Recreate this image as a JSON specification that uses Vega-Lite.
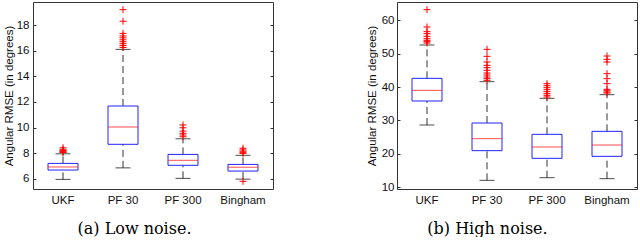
{
  "$schema": "https://vega.github.io/schema/vega-lite/v6.json",
  "padding": {"left": 2, "top": 1, "right": 0, "bottom": 0},
  "background": "white",
  "bounds": "flush",
  "spacing": 124,
  "config": {
    "view": {"stroke": "#333", "strokeWidth": 1},
    "font": "Liberation Sans",
    "axis": {"labelFont": "Liberation Sans", "titleFont": "Liberation Sans"}
  },
  "datasets": {
    "box": [
      {"panel": "a", "cat": "UKF", "lo": 5.95, "q1": 6.68, "med": 6.92, "q3": 7.2, "hi": 7.95},
      {"panel": "a", "cat": "PF 30", "lo": 6.85, "q1": 8.69, "med": 10.04, "q3": 11.68, "hi": 16.1},
      {"panel": "a", "cat": "PF 300", "lo": 6.03, "q1": 7.05, "med": 7.44, "q3": 7.9, "hi": 9.12},
      {"panel": "a", "cat": "Bingham", "lo": 5.97, "q1": 6.6, "med": 6.9, "q3": 7.12, "hi": 7.83},
      {"panel": "b", "cat": "UKF", "lo": 28.6, "q1": 35.8, "med": 39.0, "q3": 42.6, "hi": 52.6},
      {"panel": "b", "cat": "PF 30", "lo": 12.0, "q1": 20.9, "med": 24.5, "q3": 29.2, "hi": 41.6},
      {"panel": "b", "cat": "PF 300", "lo": 12.8, "q1": 18.6, "med": 22.0, "q3": 25.8, "hi": 36.6},
      {"panel": "b", "cat": "Bingham", "lo": 12.5, "q1": 19.2, "med": 22.6, "q3": 26.7, "hi": 37.7}
    ],
    "out": [
      {"panel": "a", "cat": "UKF", "v": 8.05}, {"panel": "a", "cat": "UKF", "v": 8.1}, {"panel": "a", "cat": "UKF", "v": 8.15},
      {"panel": "a", "cat": "UKF", "v": 8.2}, {"panel": "a", "cat": "UKF", "v": 8.3}, {"panel": "a", "cat": "UKF", "v": 8.42},
      {"panel": "a", "cat": "PF 30", "v": 16.25}, {"panel": "a", "cat": "PF 30", "v": 16.4}, {"panel": "a", "cat": "PF 30", "v": 16.55},
      {"panel": "a", "cat": "PF 30", "v": 16.7}, {"panel": "a", "cat": "PF 30", "v": 16.85}, {"panel": "a", "cat": "PF 30", "v": 17.0},
      {"panel": "a", "cat": "PF 30", "v": 17.15}, {"panel": "a", "cat": "PF 30", "v": 17.35}, {"panel": "a", "cat": "PF 30", "v": 18.3},
      {"panel": "a", "cat": "PF 30", "v": 19.2},
      {"panel": "a", "cat": "PF 300", "v": 9.28}, {"panel": "a", "cat": "PF 300", "v": 9.42}, {"panel": "a", "cat": "PF 300", "v": 9.55},
      {"panel": "a", "cat": "PF 300", "v": 9.72}, {"panel": "a", "cat": "PF 300", "v": 9.98}, {"panel": "a", "cat": "PF 300", "v": 10.2},
      {"panel": "a", "cat": "Bingham", "v": 5.8}, {"panel": "a", "cat": "Bingham", "v": 7.98}, {"panel": "a", "cat": "Bingham", "v": 8.06},
      {"panel": "a", "cat": "Bingham", "v": 8.15}, {"panel": "a", "cat": "Bingham", "v": 8.25}, {"panel": "a", "cat": "Bingham", "v": 8.38},
      {"panel": "b", "cat": "UKF", "v": 53.2}, {"panel": "b", "cat": "UKF", "v": 53.6}, {"panel": "b", "cat": "UKF", "v": 54.0},
      {"panel": "b", "cat": "UKF", "v": 54.5}, {"panel": "b", "cat": "UKF", "v": 55.2}, {"panel": "b", "cat": "UKF", "v": 56.0},
      {"panel": "b", "cat": "UKF", "v": 56.6}, {"panel": "b", "cat": "UKF", "v": 58.0}, {"panel": "b", "cat": "UKF", "v": 63.2},
      {"panel": "b", "cat": "PF 30", "v": 42.0}, {"panel": "b", "cat": "PF 30", "v": 42.5}, {"panel": "b", "cat": "PF 30", "v": 43.0},
      {"panel": "b", "cat": "PF 30", "v": 43.6}, {"panel": "b", "cat": "PF 30", "v": 44.2}, {"panel": "b", "cat": "PF 30", "v": 45.0},
      {"panel": "b", "cat": "PF 30", "v": 45.8}, {"panel": "b", "cat": "PF 30", "v": 46.5}, {"panel": "b", "cat": "PF 30", "v": 47.5},
      {"panel": "b", "cat": "PF 30", "v": 49.2}, {"panel": "b", "cat": "PF 30", "v": 51.3},
      {"panel": "b", "cat": "PF 300", "v": 37.0}, {"panel": "b", "cat": "PF 300", "v": 37.5}, {"panel": "b", "cat": "PF 300", "v": 38.0},
      {"panel": "b", "cat": "PF 300", "v": 38.6}, {"panel": "b", "cat": "PF 300", "v": 39.2}, {"panel": "b", "cat": "PF 300", "v": 39.8},
      {"panel": "b", "cat": "PF 300", "v": 40.4}, {"panel": "b", "cat": "PF 300", "v": 41.0},
      {"panel": "b", "cat": "Bingham", "v": 38.2}, {"panel": "b", "cat": "Bingham", "v": 38.5}, {"panel": "b", "cat": "Bingham", "v": 38.9},
      {"panel": "b", "cat": "Bingham", "v": 39.3}, {"panel": "b", "cat": "Bingham", "v": 41.0}, {"panel": "b", "cat": "Bingham", "v": 42.5},
      {"panel": "b", "cat": "Bingham", "v": 44.0}, {"panel": "b", "cat": "Bingham", "v": 47.5}, {"panel": "b", "cat": "Bingham", "v": 48.3},
      {"panel": "b", "cat": "Bingham", "v": 49.3}
    ]
  },
  "hconcat": [
    {
      "width": 240,
      "height": 187,
      "encoding": {
        "x": {
          "field": "cat", "type": "nominal",
          "sort": ["UKF", "PF 30", "PF 300", "Bingham"],
          "scale": {"paddingInner": 0, "paddingOuter": 0},
          "axis": {
            "title": "(a) Low noise.", "titleFont": "DejaVu Serif", "titleFontSize": 16, "titleFontWeight": "normal",
            "titleColor": "#000", "titleX": 101, "titleAlign": "center", "titlePadding": 15,
            "labelAngle": 0, "labelFontSize": 11.5, "labelColor": "#111", "labelPadding": 5,
            "ticks": false, "domain": false
          }
        }
      },
      "resolve": {"axis": {"y": "independent"}},
      "layer": [
        {
          "data": {"name": "box"},
          "transform": [{"filter": "datum.panel === 'a'"}],
          "mark": {"type": "rule", "color": "#333", "strokeDash": [7, 4], "strokeWidth": 1},
          "encoding": {
            "y": {
              "field": "lo", "type": "quantitative",
              "scale": {"domain": [5.2, 19.8], "nice": false, "zero": false},
              "axis": {
                "title": "Angular RMSE (in degrees)", "titleFontSize": 11.5, "titleFontWeight": "normal", "titleColor": "#111",
                "titlePadding": 2, "values": [6, 8, 10, 12, 14, 16, 18], "grid": false, "domain": false,
                "tickSize": -3, "tickColor": "#333", "labelFontSize": 11.5, "labelColor": "#111", "labelPadding": 7
              }
            },
            "y2": {"field": "q1"}
          }
        },
        {
          "data": {"name": "box"},
          "transform": [{"filter": "datum.panel === 'a'"}],
          "mark": {"type": "rule", "color": "#333", "strokeDash": [7, 4], "strokeWidth": 1},
          "encoding": {
            "y": {
              "field": "q3", "type": "quantitative",
              "axis": {"orient": "right", "title": null, "labels": false, "values": [6, 8, 10, 12, 14, 16, 18], "grid": false, "domain": false, "tickSize": -3, "tickColor": "#333"}
            },
            "y2": {"field": "hi"}
          }
        },
        {
          "data": {"name": "box"},
          "transform": [{"filter": "datum.panel === 'a'"}],
          "mark": {"type": "tick", "color": "#000", "size": 15, "thickness": 1},
          "encoding": {"y": {"field": "lo", "type": "quantitative", "axis": null}}
        },
        {
          "data": {"name": "box"},
          "transform": [{"filter": "datum.panel === 'a'"}],
          "mark": {"type": "tick", "color": "#000", "size": 15, "thickness": 1},
          "encoding": {"y": {"field": "hi", "type": "quantitative", "axis": null}}
        },
        {
          "data": {"name": "box"},
          "transform": [{"filter": "datum.panel === 'a'"}],
          "mark": {"type": "bar", "width": 30, "fill": "white", "fillOpacity": 0, "stroke": "#2222ff", "strokeWidth": 1},
          "encoding": {"y": {"field": "q1", "type": "quantitative", "axis": null}, "y2": {"field": "q3"}}
        },
        {
          "data": {"name": "box"},
          "transform": [{"filter": "datum.panel === 'a'"}],
          "mark": {"type": "tick", "color": "#ff0000", "size": 30, "thickness": 1},
          "encoding": {"y": {"field": "med", "type": "quantitative", "axis": null}}
        },
        {
          "data": {"name": "out"},
          "transform": [{"filter": "datum.panel === 'a'"}],
          "mark": {"type": "point", "shape": "M-1,0L1,0M0,-1L0,1", "size": 49, "filled": false, "stroke": "#ff0000", "strokeWidth": 1, "opacity": 1},
          "encoding": {"y": {"field": "v", "type": "quantitative", "axis": null}}
        }
      ]
    },
    {
      "width": 240,
      "height": 187,
      "encoding": {
        "x": {
          "field": "cat", "type": "nominal",
          "sort": ["UKF", "PF 30", "PF 300", "Bingham"],
          "scale": {"paddingInner": 0, "paddingOuter": 0},
          "axis": {
            "title": "(b) High noise.", "titleFont": "DejaVu Serif", "titleFontSize": 16, "titleFontWeight": "normal",
            "titleColor": "#000", "titleX": 90, "titleAlign": "center", "titlePadding": 15,
            "labelAngle": 0, "labelFontSize": 11.5, "labelColor": "#111", "labelPadding": 5,
            "ticks": false, "domain": false
          }
        }
      },
      "resolve": {"axis": {"y": "independent"}},
      "layer": [
        {
          "data": {"name": "box"},
          "transform": [{"filter": "datum.panel === 'b'"}],
          "mark": {"type": "rule", "color": "#333", "strokeDash": [7, 4], "strokeWidth": 1},
          "encoding": {
            "y": {
              "field": "lo", "type": "quantitative",
              "scale": {"domain": [9.4, 65.5], "nice": false, "zero": false},
              "axis": {
                "title": "Angular RMSE (in degrees)", "titleFontSize": 11.5, "titleFontWeight": "normal", "titleColor": "#111",
                "titlePadding": 4, "values": [10, 20, 30, 40, 50, 60], "grid": false, "domain": false,
                "tickSize": -3, "tickColor": "#333", "labelFontSize": 11.5, "labelColor": "#111", "labelPadding": 6
              }
            },
            "y2": {"field": "q1"}
          }
        },
        {
          "data": {"name": "box"},
          "transform": [{"filter": "datum.panel === 'b'"}],
          "mark": {"type": "rule", "color": "#333", "strokeDash": [7, 4], "strokeWidth": 1},
          "encoding": {
            "y": {
              "field": "q3", "type": "quantitative",
              "axis": {"orient": "right", "title": null, "labels": false, "values": [10, 20, 30, 40, 50, 60], "grid": false, "domain": false, "tickSize": -3, "tickColor": "#333"}
            },
            "y2": {"field": "hi"}
          }
        },
        {
          "data": {"name": "box"},
          "transform": [{"filter": "datum.panel === 'b'"}],
          "mark": {"type": "tick", "color": "#000", "size": 15, "thickness": 1},
          "encoding": {"y": {"field": "lo", "type": "quantitative", "axis": null}}
        },
        {
          "data": {"name": "box"},
          "transform": [{"filter": "datum.panel === 'b'"}],
          "mark": {"type": "tick", "color": "#000", "size": 15, "thickness": 1},
          "encoding": {"y": {"field": "hi", "type": "quantitative", "axis": null}}
        },
        {
          "data": {"name": "box"},
          "transform": [{"filter": "datum.panel === 'b'"}],
          "mark": {"type": "bar", "width": 30, "fill": "white", "fillOpacity": 0, "stroke": "#2222ff", "strokeWidth": 1},
          "encoding": {"y": {"field": "q1", "type": "quantitative", "axis": null}, "y2": {"field": "q3"}}
        },
        {
          "data": {"name": "box"},
          "transform": [{"filter": "datum.panel === 'b'"}],
          "mark": {"type": "tick", "color": "#ff0000", "size": 30, "thickness": 1},
          "encoding": {"y": {"field": "med", "type": "quantitative", "axis": null}}
        },
        {
          "data": {"name": "out"},
          "transform": [{"filter": "datum.panel === 'b'"}],
          "mark": {"type": "point", "shape": "M-1,0L1,0M0,-1L0,1", "size": 49, "filled": false, "stroke": "#ff0000", "strokeWidth": 1, "opacity": 1},
          "encoding": {"y": {"field": "v", "type": "quantitative", "axis": null}}
        }
      ]
    }
  ]
}
